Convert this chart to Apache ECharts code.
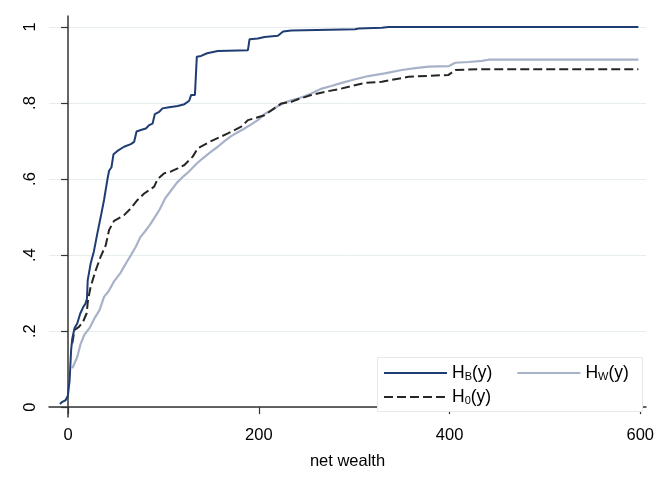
<!DOCTYPE html>
<html>
<head>
<meta charset="utf-8">
<script src="https://cdn.jsdelivr.net/npm/echarts@6/dist/echarts.min.js"></script>
<style>
html,body{margin:0;padding:0;background:#fff;}
#c{width:664px;height:483px;}
</style>
</head>
<body>
<div id="c"></div>
<script>
// ---- data ----
const xTicks = [0, 200, 400, 600];
const yTicks = [0, 0.2, 0.4, 0.6, 0.8, 1];
const yTickLabels = ['0', '.2', '.4', '.6', '.8', '1'];
const xTitle = 'net wealth';
const seriesNames = ['HB', 'HW', 'H0'];

const hB = [[-8.6,0.008],[-6,0.014],[-2.6,0.018],[-0.2,0.03],[1.6,0.07],[2.4,0.11],[3.2,0.15],[4.4,0.18],[6.8,0.208],[9.6,0.22],[12.6,0.245],[15.6,0.262],[18.4,0.273],[19.8,0.285],[20.6,0.334],[23.7,0.378],[27,0.409],[30.7,0.457],[34.2,0.5],[37.7,0.545],[41.3,0.6],[43,0.622],[45.5,0.631],[47.6,0.665],[51.8,0.674],[58.7,0.685],[65.8,0.692],[69.3,0.698],[71.8,0.725],[76.3,0.729],[81.6,0.733],[85,0.742],[88.6,0.746],[91,0.771],[95.6,0.777],[99,0.786],[106,0.789],[115,0.792],[122,0.797],[127,0.806],[129,0.821],[133,0.821],[135,0.922],[139.5,0.924],[145.8,0.931],[157,0.937],[188.6,0.939],[190.3,0.968],[199,0.97],[206,0.974],[220,0.977],[225.5,0.988],[234,0.991],[301,0.994],[304.5,0.996],[329,0.998],[336,1.0],[598,1.0]];

const hW = [[4.4,0.102],[9.6,0.132],[13,0.165],[17,0.19],[23,0.21],[28,0.235],[33,0.255],[37.7,0.29],[42.5,0.305],[48,0.33],[54.6,0.352],[62.3,0.385],[66,0.4],[71,0.422],[76,0.448],[80,0.46],[86,0.48],[91,0.5],[96,0.52],[102,0.55],[108,0.57],[114,0.59],[120,0.605],[126,0.618],[135,0.641],[140,0.652],[148,0.668],[157,0.685],[164,0.7],[171,0.713],[178,0.723],[185,0.733],[192,0.744],[199,0.755],[206,0.771],[213,0.781],[220,0.792],[227,0.801],[234,0.807],[241,0.812],[248,0.818],[255,0.825],[266,0.838],[276,0.845],[287,0.853],[300,0.862],[315,0.871],[332,0.878],[350,0.887],[364,0.892],[378,0.896],[399,0.897],[406,0.906],[420,0.908],[434,0.911],[441,0.914],[598,0.914]];

const h0 = [[4.4,0.168],[6.8,0.203],[11.4,0.211],[15.6,0.224],[19.5,0.247],[20.9,0.282],[23.7,0.317],[29,0.36],[34.2,0.396],[39.5,0.426],[43,0.466],[48.2,0.49],[58.7,0.505],[65.8,0.523],[72.8,0.545],[79.8,0.562],[90.3,0.58],[93.9,0.6],[100.8,0.615],[108,0.62],[115,0.628],[122,0.637],[130.7,0.659],[136,0.681],[150,0.7],[167.6,0.72],[181.6,0.738],[188.6,0.755],[206,0.768],[223.7,0.799],[234,0.803],[241,0.81],[255,0.821],[270,0.83],[283,0.836],[311,0.853],[329,0.856],[357,0.869],[399,0.874],[406,0.887],[434,0.889],[598,0.889]];

const FONT = '"Liberation Sans", Arial, sans-serif';
const subLabel = {HB: 'B', HW: 'W', H0: '0'};
const richText = {
  a: {fontSize: 17.5, fontFamily: FONT, color: '#000'},
  s: {fontSize: 11, fontFamily: FONT, color: '#000', padding: [7, 0, 0, 0]}
};
function legendFmt(name) { return '{a|H}{s|' + subLabel[name] + '}{a|(y)}'; }

const chart = echarts.init(document.getElementById('c'), null, {renderer: 'canvas'});
chart.setOption({
  animation: false,
  backgroundColor: '#fff',
  grid: {left: 49, right: 18, top: 16, bottom: 66, containLabel: false},
  graphic: [{
    type: 'rect', z: 3,
    shape: {x: 377.5, y: 357.5, width: 265, height: 54},
    style: {fill: '#fff', stroke: '#e4eaec', lineWidth: 1}
  }],
  legend: [{
    data: ['HB', 'HW'], left: 383, top: 364, padding: 0, z: 5,
    itemWidth: 63, itemHeight: 14, itemGap: 24,
    itemStyle: {opacity: 0},
    formatter: legendFmt, textStyle: {fontFamily: FONT, fontSize: 17.5, rich: richText}
  }, {
    data: ['H0'], left: 383, top: 388, padding: 0, z: 5,
    itemWidth: 63, itemHeight: 14,
    itemStyle: {opacity: 0},
    formatter: legendFmt, textStyle: {fontFamily: FONT, fontSize: 17.5, rich: richText}
  }],
  xAxis: {
    type: 'value', min: -20, max: 606,
    name: xTitle, nameLocation: 'middle', nameGap: 36,
    nameTextStyle: {fontFamily: FONT, fontSize: 16.5, color: '#000'},
    axisLine: {show: true, lineStyle: {color: '#333', width: 1.5}},
    axisTick: {show: true, length: 7, customValues: xTicks, lineStyle: {color: '#333', width: 1.2}},
    axisLabel: {customValues: xTicks, fontFamily: FONT, fontSize: 16.5, color: '#000', margin: 10},
    splitLine: {show: false}
  },
  yAxis: {
    type: 'value', min: -0.026, max: 1.029,
    axisLine: {show: true, lineStyle: {color: '#333', width: 1.5}},
    axisTick: {show: true, length: 7, customValues: yTicks, lineStyle: {color: '#333', width: 1.2}},
    axisLabel: {
      customValues: yTicks, rotate: 90, fontFamily: FONT, fontSize: 16.5, color: '#000', margin: 10,
      formatter: function (v) {
        for (let i = 0; i < yTicks.length; i++) if (Math.abs(yTicks[i] - v) < 1e-6) return yTickLabels[i];
        return '';
      }
    },
    splitLine: {show: true, lineStyle: {color: '#e6edef', width: 1}}
  },
  series: [
    {name: 'HB', type: 'line', data: hB, symbol: 'none', z: 4,
     lineStyle: {color: '#1f3d73', width: 2}, itemStyle: {color: '#1f3d73'}},
    {name: 'HW', type: 'line', data: hW, symbol: 'none', z: 2,
     lineStyle: {color: '#a7b2c9', width: 2.2}, itemStyle: {color: '#a7b2c9'}},
    {name: 'H0', type: 'line', data: h0, symbol: 'none', z: 3,
     lineStyle: {color: '#262626', width: 2, type: [9, 4]}, itemStyle: {color: '#262626'}}
  ]
});
</script>
</body>
</html>
